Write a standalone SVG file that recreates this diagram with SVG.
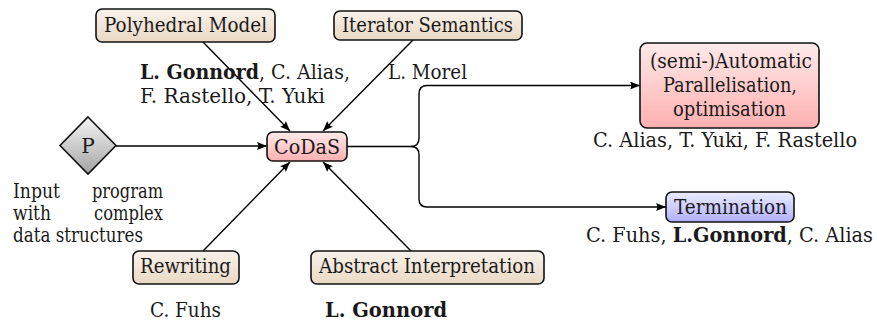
<svg xmlns="http://www.w3.org/2000/svg" width="877" height="322" viewBox="0 0 877 322">
<defs>
<linearGradient id="tan" x1="0" y1="0" x2="0" y2="1"><stop offset="0" stop-color="#f8f2eb"/><stop offset="1" stop-color="#ead8c4"/></linearGradient>
<linearGradient id="pink" x1="0" y1="0" x2="0" y2="1"><stop offset="0" stop-color="#ffeaea"/><stop offset="1" stop-color="#ffb0b0"/></linearGradient>
<linearGradient id="blue" x1="0" y1="0" x2="0" y2="1"><stop offset="0" stop-color="#ececff"/><stop offset="1" stop-color="#b0b0ff"/></linearGradient>
<linearGradient id="gray" x1="0" y1="0" x2="0" y2="1"><stop offset="0" stop-color="#f4f4f4"/><stop offset="1" stop-color="#a4a4a4"/></linearGradient>
<marker id="arr" viewBox="0 0 10 8" refX="10" refY="4" markerWidth="10" markerHeight="8" markerUnits="userSpaceOnUse" orient="auto">
<path d="M0,0 Q2.5,4 0,8 L10,4 Z" fill="#000"/>
</marker>
</defs>
<style>
.box{stroke:#111;stroke-width:1.6}
.ln{fill:none;stroke:#000;stroke-width:1.4}
</style>
<g id="connectors">
<line class="ln" x1="116" y1="146" x2="267" y2="146" marker-end="url(#arr)"/>
<line class="ln" x1="203" y1="42" x2="290" y2="131" marker-end="url(#arr)"/>
<line class="ln" x1="413" y1="40" x2="323" y2="131" marker-end="url(#arr)"/>
<line class="ln" x1="203" y1="251" x2="290" y2="162" marker-end="url(#arr)"/>
<line class="ln" x1="411" y1="251" x2="323" y2="162" marker-end="url(#arr)"/>
<path class="ln" d="M347,146.5 H411 Q419,146.5 419,138 V94 Q419,85.5 427,85.5 H640" marker-end="url(#arr)"/>
<path class="ln" d="M411,146.5 Q419,146.5 419,155 V199 Q419,207 427,207 H666" marker-end="url(#arr)"/>
</g>
<g id="poly">
<rect class="box" x="96" y="9" width="179" height="33" rx="6" fill="url(#tan)"/>
<text font-family="DejaVu Serif" font-size="20" fill="#1a1a1a" x="104" y="32" textLength="163" lengthAdjust="spacingAndGlyphs">Polyhedral Model</text>
</g>
<g id="iter">
<rect class="box" x="334" y="11" width="188" height="29" rx="6" fill="url(#tan)"/>
<text font-family="DejaVu Serif" font-size="20" fill="#1a1a1a" x="342" y="32" textLength="171" lengthAdjust="spacingAndGlyphs">Iterator Semantics</text>
</g>
<g id="p">
<polygon class="box" points="88,117 116,145.5 88,174 60,145.5" fill="url(#gray)"/>
<text font-family="DejaVu Serif" font-size="20" text-anchor="middle" fill="#1a1a1a" x="88" y="153">P</text>
</g>
<g id="codas">
<rect class="box" x="267" y="132" width="80" height="29" rx="6" fill="url(#pink)"/>
<text font-family="DejaVu Serif" font-size="20" fill="#1a1a1a" x="274" y="154" textLength="66" lengthAdjust="spacingAndGlyphs">CoDaS</text>
</g>
<g id="auto">
<rect class="box" x="640" y="43" width="179" height="85" rx="7" fill="url(#pink)"/>
<text font-family="DejaVu Serif" font-size="20" fill="#1a1a1a" x="650" y="67.5" textLength="162" lengthAdjust="spacingAndGlyphs">(semi-)Automatic</text>
<text font-family="DejaVu Serif" font-size="20" fill="#1a1a1a" x="663" y="91.5" textLength="134" lengthAdjust="spacingAndGlyphs">Parallelisation,</text>
<text font-family="DejaVu Serif" font-size="20" fill="#1a1a1a" x="673" y="115.5" textLength="113" lengthAdjust="spacingAndGlyphs">optimisation</text>
</g>
<g id="term">
<rect class="box" x="666" y="192" width="128" height="30" rx="6" fill="url(#blue)"/>
<text font-family="DejaVu Serif" font-size="20" fill="#1a1a1a" x="674" y="213.5" textLength="113" lengthAdjust="spacingAndGlyphs">Termination</text>
</g>
<g id="rewr">
<rect class="box" x="133" y="251" width="106" height="33" rx="6" fill="url(#tan)"/>
<text font-family="DejaVu Serif" font-size="20" fill="#1a1a1a" x="140" y="273" textLength="91" lengthAdjust="spacingAndGlyphs">Rewriting</text>
</g>
<g id="absint">
<rect class="box" x="311" y="251" width="233" height="33" rx="6" fill="url(#tan)"/>
<text font-family="DejaVu Serif" font-size="20" fill="#1a1a1a" x="319" y="273" textLength="216" lengthAdjust="spacingAndGlyphs">Abstract Interpretation</text>
</g>
<g id="labels" fill="#1a1a1a">
<text font-family="DejaVu Serif" font-size="20" x="140" y="79" textLength="210" lengthAdjust="spacingAndGlyphs"><tspan font-weight="bold">L. Gonnord</tspan>, C. Alias,</text>
<text font-family="DejaVu Serif" font-size="20" x="140" y="103" textLength="185" lengthAdjust="spacingAndGlyphs">F. Rastello, T. Yuki</text>
<text font-family="DejaVu Serif" font-size="20" x="388" y="79" textLength="79" lengthAdjust="spacingAndGlyphs">L. Morel</text>
<text font-family="DejaVu Serif" font-size="20" x="593" y="147" textLength="264" lengthAdjust="spacingAndGlyphs">C. Alias, T. Yuki, F. Rastello</text>
<text font-family="DejaVu Serif" font-size="20" x="586" y="242" textLength="287" lengthAdjust="spacingAndGlyphs">C. Fuhs, <tspan font-weight="bold">L.Gonnord</tspan>, C. Alias</text>
<text font-family="DejaVu Serif" font-size="20" x="13" y="198" textLength="47" lengthAdjust="spacingAndGlyphs">Input</text>
<text font-family="DejaVu Serif" font-size="20" x="92" y="198" textLength="71" lengthAdjust="spacingAndGlyphs">program</text>
<text font-family="DejaVu Serif" font-size="20" x="13" y="220" textLength="38" lengthAdjust="spacingAndGlyphs">with</text>
<text font-family="DejaVu Serif" font-size="20" x="94" y="220" textLength="69" lengthAdjust="spacingAndGlyphs">complex</text>
<text font-family="DejaVu Serif" font-size="20" x="13" y="242" textLength="130" lengthAdjust="spacingAndGlyphs">data structures</text>
<text font-family="DejaVu Serif" font-size="20" x="150" y="317" textLength="71" lengthAdjust="spacingAndGlyphs">C. Fuhs</text>
<text font-family="DejaVu Serif" font-size="20" font-weight="bold" x="325" y="317" textLength="122" lengthAdjust="spacingAndGlyphs">L. Gonnord</text>
</g>
</svg>
